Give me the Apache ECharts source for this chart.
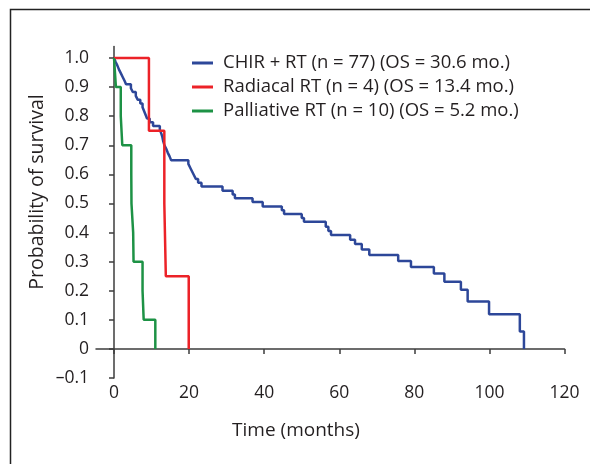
<!DOCTYPE html>
<html>
<head>
<meta charset="utf-8">
<script src="https://cdn.jsdelivr.net/npm/echarts@6/dist/echarts.min.js"></script>
<style>
html,body{margin:0;padding:0;background:#fff;}
#c{width:590px;height:464px;}
</style>
</head>
<body>
<div id="c"></div>
<script>
const seriesNames = [
  'CHIR + RT (n = 77) (OS = 30.6 mo.)',
  'Radiacal RT (n = 4) (OS = 13.4 mo.)',
  'Palliative RT (n = 10) (OS = 5.2 mo.)'
];
const chirTimes = [0,0.4,0.9,1.3,1.8,2.3,2.8,3.2,4.5,5.0,5.8,6.3,7.0,7.6,8.0,8.4,8.8,9.5,10.4,12.2,12.6,12.9,13.1,13.4,13.9,14.3,14.8,15.2,19.8,20.3,20.8,21.3,21.8,22.4,23.3,28.9,31.6,32.2,36.9,39.6,44.7,45.3,50.0,50.6,56.4,57.1,57.8,62.9,64.2,66.0,68.0,75.7,79.1,85.2,88.0,92.4,94.2,99.9,108.1,109.2];
const chirSurv  = [1.0,0.987,0.974,0.961,0.948,0.935,0.922,0.91,0.896,0.883,0.87,0.857,0.844,0.831,0.818,0.805,0.792,0.779,0.766,0.753,0.74,0.727,0.714,0.701,0.688,0.675,0.662,0.649,0.636,0.623,0.61,0.597,0.584,0.571,0.558,0.544,0.531,0.518,0.505,0.49,0.477,0.464,0.45,0.437,0.42,0.405,0.392,0.375,0.361,0.342,0.323,0.302,0.282,0.259,0.231,0.203,0.163,0.119,0.06,0.0];
const radTimes = [0,9.3,13.4,13.8,19.9];
const radSurv  = [1.0,0.75,0.5,0.25,0.0];
const palTimes = [0,0.5,1.8,2.2,4.6,4.65,5.1,5.2,7.6,7.9,11.0];
const palSurv  = [1.0,0.9,0.8,0.7,0.6,0.5,0.4,0.3,0.2,0.1,0.0];
const xTicks = [0,20,40,60,80,100,120];
const yTicks = [-0.1,0,0.1,0.2,0.3,0.4,0.5,0.6,0.7,0.8,0.9,1.0];
const colors = ['#2d4799','#ec2228','#1d9245'];

const FONT = 'Open Sans';
const TXT = '#231f20';
function pairs(t, s){ return t.map((v,i)=>[v, s[i]]); }

const chart = echarts.init(document.getElementById('c'), null, {renderer:'canvas'});
const axisLine = {show:true, lineStyle:{color:'#3c3c3c', width:1.5}};
chart.setOption({
  animation:false,
  backgroundColor:'#fff',
  grid:{left:96, right:25.5, top:46.4, bottom:86, containLabel:false},
  legend:{
    orient:'vertical', left:187, top:46,
    itemWidth:21, itemHeight:3, itemGap:0,
    textStyle:{fontFamily:FONT, fontSize:18.5, color:TXT, lineHeight:24, padding:[0,0,0,5]},
    data:seriesNames.map(n=>({name:n, icon:'rect'}))
  },
  xAxis:{
    type:'value', min:-4.8, max:120,
    axisLine:axisLine,
    axisTick:{show:true, length:5, customValues:xTicks, lineStyle:{color:'#3c3c3c', width:1.5}},
    axisLabel:{customValues:xTicks, fontFamily:FONT, fontSize:17.5, color:TXT, margin:6},
    splitLine:{show:false}
  },
  yAxis:{
    type:'value', min:-0.1, max:1.04,
    axisLine:axisLine,
    axisTick:{show:true, length:5, customValues:yTicks, lineStyle:{color:'#3c3c3c', width:1.5}},
    axisLabel:{customValues:yTicks, fontFamily:FONT, fontSize:17.5, color:TXT, margin:7,
      formatter:function(v){ if (Math.abs(v) < 1e-9) return '0'; if (v < 0) return '\u2013' + Math.abs(v).toFixed(1); return v.toFixed(1); }},
    splitLine:{show:false}
  },
  graphic:[
    {type:'polyline', shape:{points:[[10.5,464],[10.5,9.5],[590,9.5]]}, style:{stroke:'#222', lineWidth:1.5, fill:null}, silent:true},
    {type:'text', x:37, y:192, rotation:Math.PI/2, style:{text:'Probability of survival', fontFamily:FONT, fontSize:19.5, fill:TXT, align:'center', verticalAlign:'middle'}},
    {type:'text', x:296, y:431, style:{text:'Time (months)', fontFamily:FONT, fontSize:19, fill:TXT, align:'center', verticalAlign:'middle'}}
  ],
  series:[
    {name:seriesNames[0], type:'line', step:'end', symbol:'none', data:pairs(chirTimes, chirSurv), color:colors[0], lineStyle:{width:2.5, color:colors[0]}},
    {name:seriesNames[1], type:'line', step:'end', symbol:'none', data:pairs(radTimes, radSurv), color:colors[1], lineStyle:{width:2.5, color:colors[1]}},
    {name:seriesNames[2], type:'line', step:'end', symbol:'none', data:pairs(palTimes, palSurv), color:colors[2], lineStyle:{width:2.5, color:colors[2]}}
  ]
});
</script>
</body>
</html>
